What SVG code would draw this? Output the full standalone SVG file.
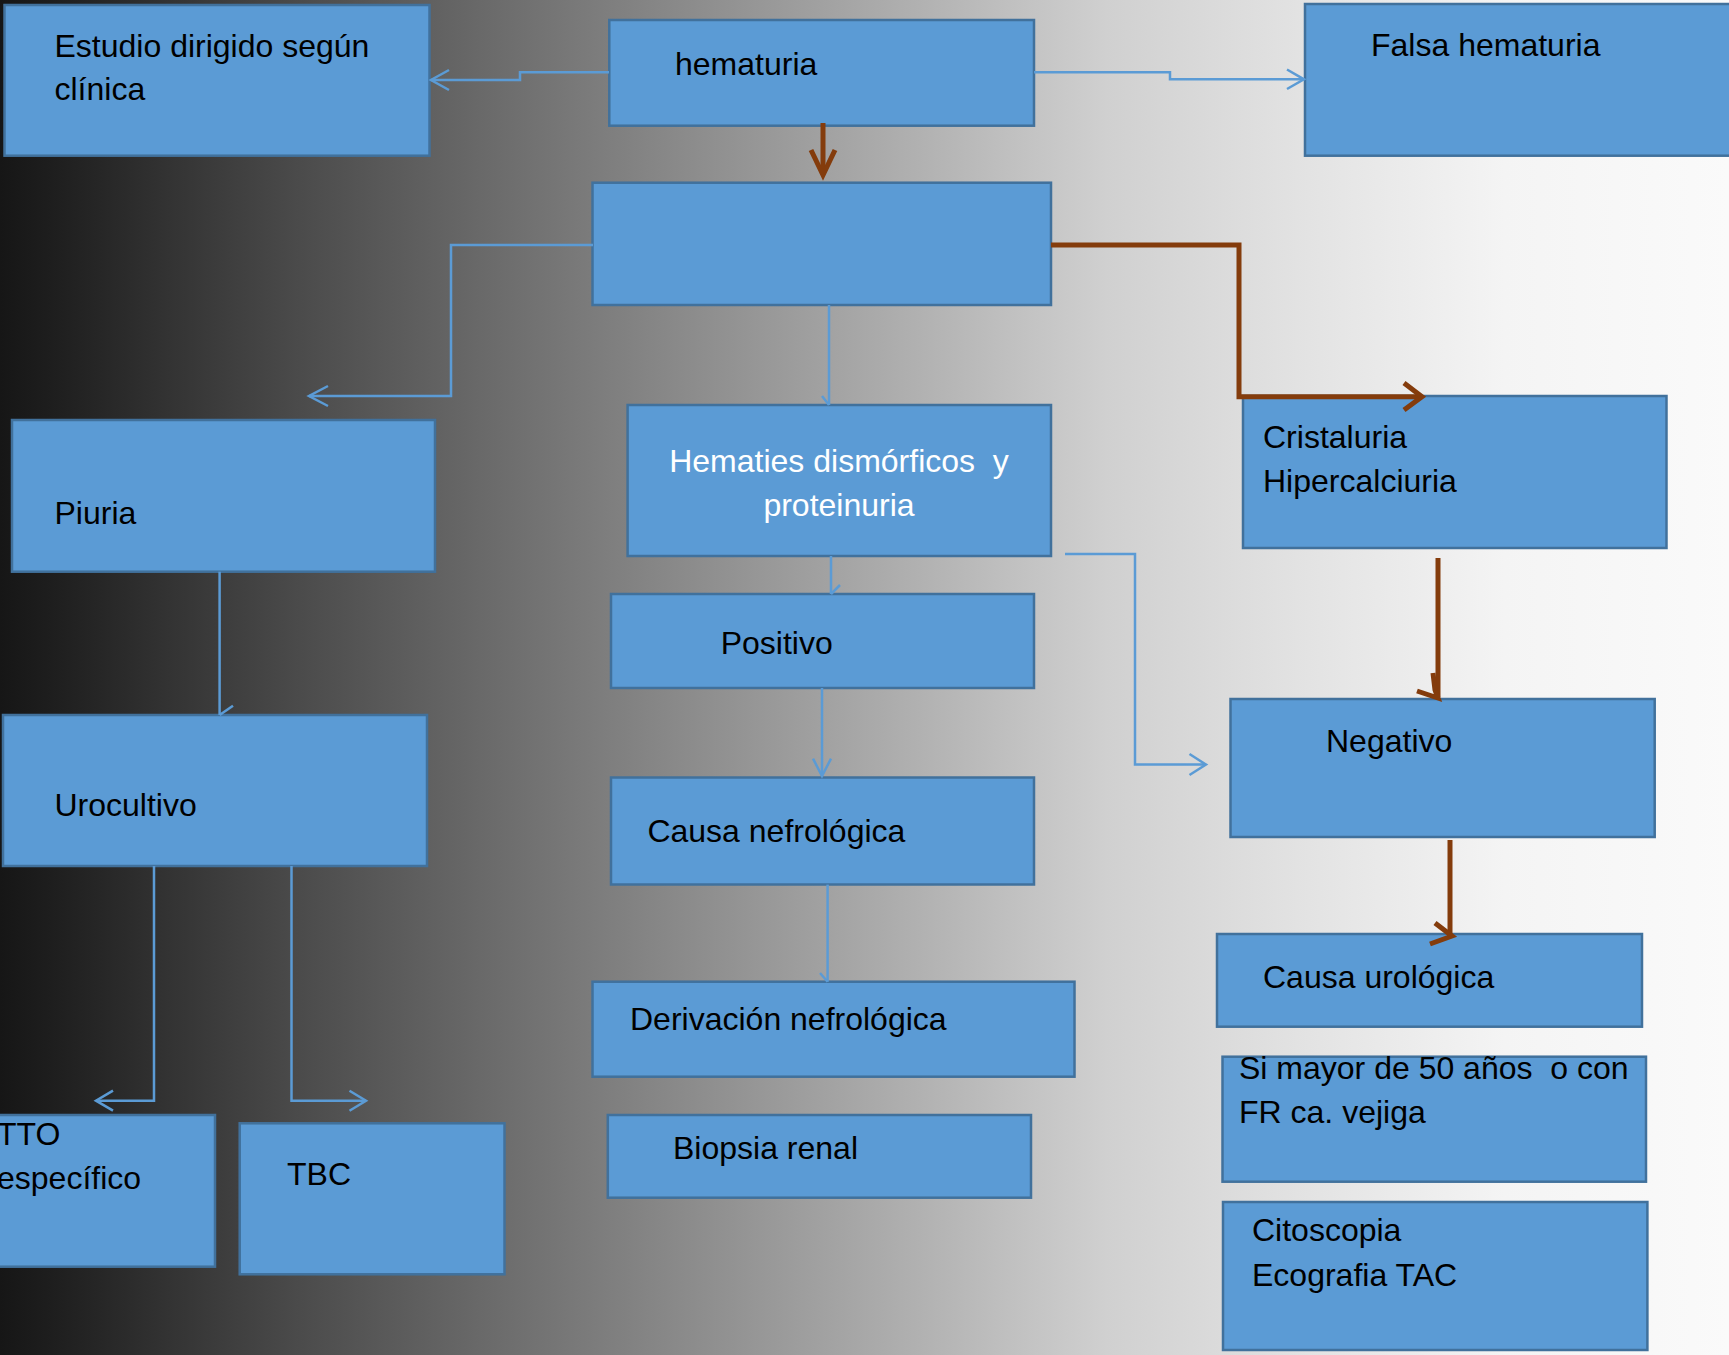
<svg xmlns="http://www.w3.org/2000/svg" width="1729" height="1355" viewBox="0 0 1729 1355">
<defs>
<linearGradient id="bg" x1="0" y1="0" x2="1" y2="0">
<stop offset="0" stop-color="#161616"/>
<stop offset="0.03" stop-color="#1e1e1e"/>
<stop offset="0.06" stop-color="#272727"/>
<stop offset="0.17" stop-color="#4a4a4a"/>
<stop offset="0.33" stop-color="#787878"/>
<stop offset="0.5" stop-color="#a8a8a8"/>
<stop offset="0.64" stop-color="#d0d0d0"/>
<stop offset="0.75" stop-color="#e2e2e2"/>
<stop offset="0.87" stop-color="#f4f4f4"/>
<stop offset="1" stop-color="#fafafa"/>
</linearGradient>
<style>
.box{fill:#5b9bd5;stroke:#41719c;stroke-width:2.5}
.t{font-family:"Liberation Sans",Arial,sans-serif;font-size:32px;fill:#000;white-space:pre}
.w{fill:#fff}
.blue{fill:none;stroke:#5b9bd5;stroke-width:2.5}
.brown{fill:none;stroke:#843c0c;stroke-width:5;stroke-linecap:butt}
</style>
</defs>
<rect x="0" y="0" width="1729" height="1355" fill="url(#bg)"/>

<g id="n-estudio"><rect class="box" x="4.5" y="5" width="425" height="150.7"/><text class="t" x="54.5" y="57">Estudio dirigido según</text><text class="t" x="54.5" y="100.3">clínica</text></g>
<g id="n-hematuria"><rect class="box" x="609.3" y="20" width="424.7" height="105.7"/><text class="t" x="675" y="75">hematuria</text></g>
<g id="n-falsa"><rect class="box" x="1305" y="4" width="440" height="151.7"/><text class="t" x="1371" y="56">Falsa hematuria</text></g>
<g id="n-empty"><rect class="box" x="592.5" y="182.7" width="458.5" height="122.3"/></g>
<g id="n-piuria"><rect class="box" x="12" y="420" width="423" height="151.7"/><text class="t" x="54.5" y="524">Piuria</text></g>
<g id="n-hematies"><rect class="box" x="627.6" y="405" width="423.4" height="151"/><text class="t w" x="839" y="472" text-anchor="middle">Hematies dismórficos  y</text><text class="t w" x="839" y="516" text-anchor="middle">proteinuria</text></g>
<g id="n-cristaluria"><rect class="box" x="1243" y="396" width="423.5" height="152"/><text class="t" x="1263" y="448">Cristaluria</text><text class="t" x="1263" y="492">Hipercalciuria</text></g>
<g id="n-positivo"><rect class="box" x="611" y="594" width="423" height="94"/><text class="t" x="720.7" y="654">Positivo</text></g>
<g id="n-urocultivo"><rect class="box" x="3" y="715" width="424" height="151"/><text class="t" x="54.5" y="816">Urocultivo</text></g>
<g id="n-negativo"><rect class="box" x="1230.5" y="699" width="424.2" height="138"/><text class="t" x="1326" y="752">Negativo</text></g>
<g id="n-causanef"><rect class="box" x="611" y="777.5" width="423" height="107"/><text class="t" x="647.4" y="841.7">Causa nefrológica</text></g>
<g id="n-causauro"><rect class="box" x="1217" y="934" width="425" height="92.7"/><text class="t" x="1263" y="988">Causa urológica</text></g>
<g id="n-derivacion"><rect class="box" x="592.5" y="981.7" width="482" height="95"/><text class="t" x="630" y="1030">Derivación nefrológica</text></g>
<g id="n-simayor"><rect class="box" x="1222.5" y="1056.7" width="423.5" height="125"/><text class="t" x="1239" y="1079">Si mayor de 50 años  o con</text><text class="t" x="1239" y="1122.7">FR ca. vejiga</text></g>
<g id="n-tto"><rect class="box" x="-10" y="1115" width="225" height="151.7"/><text class="t" x="-3" y="1145">TTO</text><text class="t" x="-3" y="1189">específico</text></g>
<g id="n-tbc"><rect class="box" x="239.7" y="1123.3" width="264.8" height="151"/><text class="t" x="287" y="1185">TBC</text></g>
<g id="n-biopsia"><rect class="box" x="607.8" y="1115" width="423.2" height="82.7"/><text class="t" x="673" y="1159">Biopsia renal</text></g>
<g id="n-citoscopia"><rect class="box" x="1223" y="1202" width="424.4" height="148"/><text class="t" x="1252" y="1241">Citoscopia</text><text class="t" x="1252" y="1286">Ecografia TAC</text></g>

<g id="connectors">
<polyline class="blue" points="609,72.3 520,72.3 520,80 431,80"/><polyline class="blue" points="449,70 431,80 449,90"/>
<polyline class="blue" points="1034,72.3 1170,72.3 1170,79.3 1304,79.3"/><polyline class="blue" points="1287,69.5 1304,79.3 1287,89"/>
<line class="brown" x1="823" y1="123" x2="823" y2="174"/><polyline class="brown" points="811,150 823,175 835,150"/>
<polyline class="blue" points="593,245 451,245 451,396 309,396"/><polyline class="blue" points="328,386 309,396 328,406"/>
<polyline class="brown" points="1051,245 1239,245 1239,396.7 1420,396.7"/><polyline class="brown" points="1404,383 1422,396.7 1404,410"/>
<line class="blue" x1="829" y1="305" x2="829" y2="405"/><polyline class="blue" points="822,396 829,405"/>
<line class="blue" x1="831" y1="556" x2="831" y2="594"/><polyline class="blue" points="840,585 831,594"/>
<polyline class="blue" points="1065,554 1135,554 1135,764.6 1206,764.6"/><polyline class="blue" points="1189.5,754 1206,764.6 1189.5,775"/>
<line class="brown" x1="1438" y1="558" x2="1438" y2="697"/><polyline class="brown" points="1433,673 1435,690 1438,698 1417,691"/>
<line class="blue" x1="822" y1="688" x2="822" y2="776"/><polyline class="blue" points="813,758.6 822,776 831,758.6"/>
<line class="brown" x1="1450" y1="840" x2="1450" y2="935"/><polyline class="brown" points="1435,923 1452,936 1430,944"/>
<line class="blue" x1="827.6" y1="884.6" x2="827.6" y2="981.7"/><polyline class="blue" points="820,973 827.6,981.7"/>
<line class="blue" x1="219.6" y1="571.7" x2="219.6" y2="715"/><polyline class="blue" points="233,705.7 219.6,715"/>
<polyline class="blue" points="154,866 154,1100.7 96,1100.7"/><polyline class="blue" points="113,1090.7 96,1100.7 113,1110.7"/>
<polyline class="blue" points="291.5,866 291.5,1100.7 366,1100.7"/><polyline class="blue" points="349.5,1090.7 366,1100.7 349.5,1110.7"/>
</g>
</svg>
